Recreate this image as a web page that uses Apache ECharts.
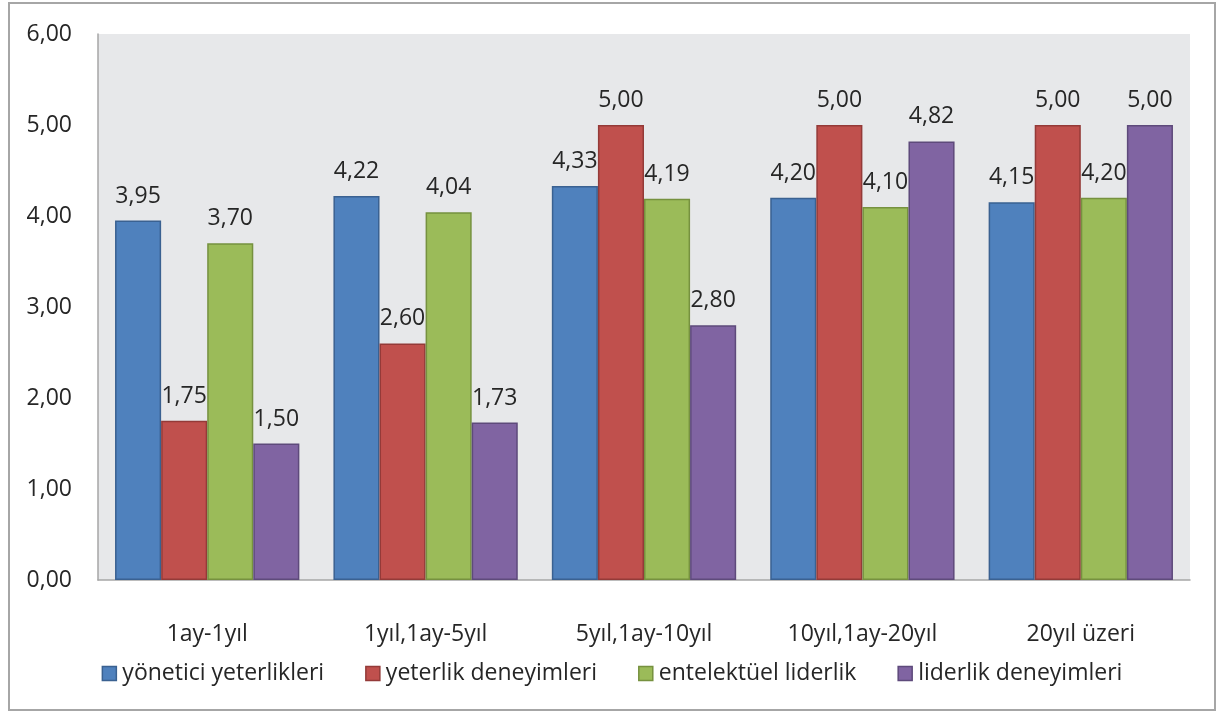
<!DOCTYPE html>
<html>
<head>
    <meta charset="utf-8">
    <script src="https://cdn.jsdelivr.net/npm/echarts@6/dist/echarts.min.js"></script>
    <style>
        body { margin: 0; padding: 0; background: #fff; }
        #chart {
            position: absolute;
            left: 8px; top: 2px;
            width: 1208px; height: 709px;
            border: 2px solid #a6a6a6;
            box-sizing: border-box;
        }
    </style>
</head>
<body>
    <div id="chart"></div>
    <script>
        var categories = ['1ay-1yıl', '1yıl,1ay-5yıl', '5yıl,1ay-10yıl', '10yıl,1ay-20yıl', '20yıl üzeri'];
        var yonetici = [3.95, 4.22, 4.33, 4.20, 4.15];
        var yeterlik = [1.75, 2.60, 5.00, 5.00, 5.00];
        var entelektuel = [3.70, 4.04, 4.19, 4.10, 4.20];
        var liderlik = [1.50, 1.73, 2.80, 4.82, 5.00];
        var seriesNames = ['yönetici yeterlikleri', 'yeterlik deneyimleri', 'entelektüel liderlik', 'liderlik deneyimleri'];

        var colors = ['#4f81bd', '#c0504d', '#9bbb59', '#8064a2'];
        var borders = ['#3a6191', '#943a38', '#76913f', '#5e4a7b'];
        var font = '"Open Sans", "Noto Sans", sans-serif';
        var fs = 23;

        function fmt(v) { return v.toFixed(2).replace('.', ','); }

        var chart = echarts.init(document.getElementById('chart'));
        var allData = [yonetici, yeterlik, entelektuel, liderlik];
        var series = allData.map(function (d, i) {
            return {
                name: seriesNames[i],
                type: 'bar',
                data: d,
                barGap: '0%',
                barCategoryGap: '15.6%',
                itemStyle: { color: colors[i], borderColor: borders[i], borderWidth: 1.5 },
                label: {
                    show: true,
                    position: 'top',
                    distance: 13,
                    color: '#262626',
                    fontFamily: font,
                    fontSize: fs,
                    formatter: function (p) { return fmt(p.value); }
                }
            };
        });

        chart.setOption({
            animation: false,
            grid: {
                left: 88, right: 24, top: 30, bottom: 129,
                show: true, backgroundColor: '#e7e8ea', borderWidth: 0
            },
            legend: {
                bottom: 19,
                left: 'center',
                icon: 'rect',
                itemWidth: 14,
                itemHeight: 14,
                itemGap: 41,
                itemStyle: { borderWidth: 1.5 },
                textStyle: { color: '#262626', fontFamily: font, fontSize: fs, padding: [0, 0, 0, 1] },
                data: seriesNames
            },
            xAxis: {
                type: 'category',
                data: categories,
                axisLine: { lineStyle: { color: '#a6a6a6', width: 1.5 } },
                axisTick: { show: false },
                axisLabel: { color: '#262626', fontFamily: font, fontSize: fs, margin: 43 }
            },
            yAxis: {
                type: 'value',
                min: 0, max: 6, interval: 1,
                axisLine: { show: true, lineStyle: { color: '#a6a6a6', width: 1.5 } },
                axisTick: { show: false },
                splitLine: { show: false },
                axisLabel: {
                    color: '#262626', fontFamily: font, fontSize: fs, margin: 26,
                    formatter: function (v) { return fmt(v); }
                }
            },
            series: series
        });
    </script>
</body>
</html>
